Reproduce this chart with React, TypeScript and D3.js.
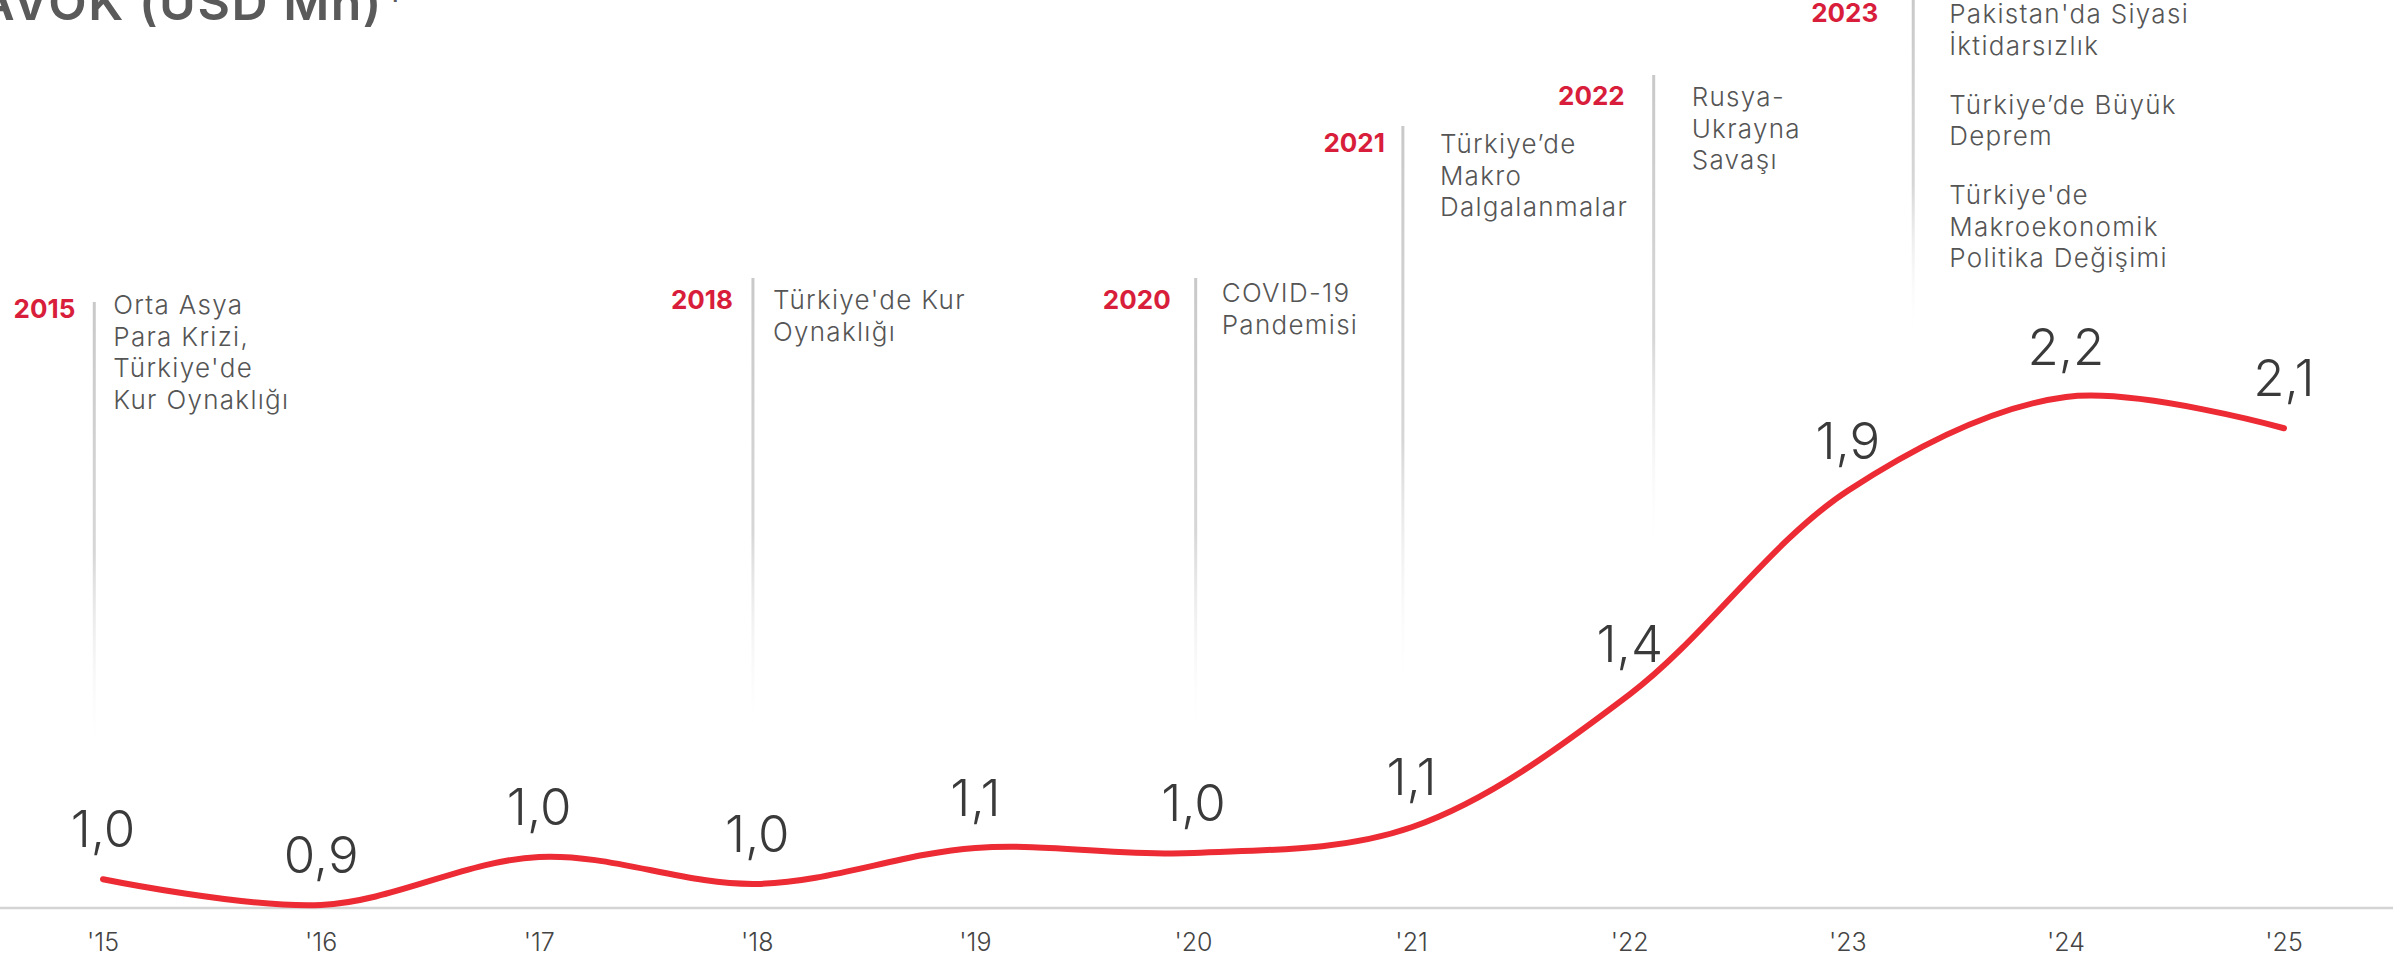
import React from "react";
import * as d3 from "d3";

// data
const years = [2015, 2016, 2017, 2018, 2019, 2020, 2021, 2022, 2023, 2024, 2025];
const tickLabels = ["'15", "'16", "'17", "'18", "'19", "'20", "'21", "'22", "'23", "'24", "'25"];
const ebitda = [0.966, 0.9, 1.023, 0.954, 1.046, 1.033, 1.099, 1.439, 1.96, 2.2, 2.12];
const valueLabels = ["1,0", "0,9", "1,0", "1,0", "1,1", "1,0", "1,1", "1,4", "1,9", "2,2", "2,1"];

const eventYears = ["2015", "2018", "2020", "2021", "2022", "2023"];
const eventTexts = [
  [["Orta Asya", "Para Krizi,", "Türkiye'de", "Kur Oynaklığı"]],
  [["Türkiye'de Kur", "Oynaklığı"]],
  [["COVID-19", "Pandemisi"]],
  [["Türkiye’de", "Makro", "Dalgalanmalar"]],
  [["Rusya-", "Ukrayna", "Savaşı"]],
  [
    ["Pakistan'da Siyasi", "İktidarsızlık"],
    ["Türkiye’de Büyük", "Deprem"],
    ["Türkiye'de", "Makroekonomik", "Politika Değişimi"],
  ],
];

// layout of the event markers (x in year units, y in px)
const eventLayout = [
  { x: 2014.96, top: 302, bottom: 760, yearY: 318, textY: 314, textDx: 19, yearDx: -19 },
  { x: 2017.98, top: 278, bottom: 740, yearY: 309, textY: 309, textDx: 20, yearDx: -20 },
  { x: 2020.01, top: 278, bottom: 740, yearY: 309, textY: 302, textDx: 26, yearDx: -25 },
  { x: 2020.96, top: 126, bottom: 700, yearY: 152, textY: 153, textDx: 37, yearDx: -18 },
  { x: 2022.11, top: 75, bottom: 557, yearY: 105, textY: 106, textDx: 38, yearDx: -29 },
  { x: 2023.3, top: -5, bottom: 340, yearY: 22, textY: 23, textDx: 36, yearDx: -35 },
];

const W = 2405;
const H = 960;
const FONT = "Inter, 'Noto Sans', sans-serif";
const RED = "#ec2b34";
const YEAR_RED = "#d81e3a";

export default function App() {
  const x = d3.scaleLinear().domain([2015, 2025]).range([103, 2284]);
  const y = d3.scaleLinear().domain([0.9, 2.2]).range([905, 397]);

  const line = d3
    .line<number>()
    .x((_, i) => x(years[i]))
    .y((d) => y(d))
    .curve(d3.curveCatmullRom.alpha(0.5));

  const lh = 31.5;
  const paraGap = 27.5;

  return (
    <svg
      width={W}
      height={H}
      style={{ position: "absolute", left: 0, top: 0, display: "block", background: "#fff" }}
      fontFamily={FONT}
    >
      <defs>
        <linearGradient id="fade" x1="0" y1="0" x2="0" y2="1">
          <stop offset="0" stopColor="#c9c9c9" stopOpacity={1} />
          <stop offset="0.55" stopColor="#d2d2d2" stopOpacity={0.9} />
          <stop offset="1" stopColor="#ffffff" stopOpacity={0} />
        </linearGradient>
      </defs>

      {/* title, cut off at the top-left like the reference */}
      <text
        x={383}
        y={20}
        textAnchor="end"
        fontSize={50}
        fontWeight={600}
        letterSpacing={1.5}
        fill="#5a5a5a"
      >
        FAVÖK (USD Mn)
      </text>
      <text x={389} y={2} fontSize={22} fontWeight={600} fill="#5a5a5a">
        1
      </text>

      {/* event markers */}
      {eventYears.map((yr, i) => {
        const L = eventLayout[i];
        const ex = x(L.x);
        let row = 0;
        return (
          <g key={yr}>
            <rect x={ex - 1.5} y={L.top} width={3} height={L.bottom - L.top} fill="url(#fade)" />
            <text
              x={ex + L.yearDx}
              y={L.yearY}
              textAnchor="end"
              fontSize={26}
              fontWeight={700}
              fill={YEAR_RED}
            >
              {yr}
            </text>
            {eventTexts[i].map((para, p) => {
              const out = para.map((t, k) => {
                const ty = L.textY + (row + k) * lh + p * paraGap;
                return (
                  <text
                    key={k}
                    x={ex + L.textDx}
                    y={ty}
                    fontSize={26}
                    fontWeight={300}
                    letterSpacing={1.3}
                    fill="#555"
                  >
                    {t}
                  </text>
                );
              });
              row += para.length;
              return <g key={p}>{out}</g>;
            })}
          </g>
        );
      })}

      {/* baseline */}
      <line x1={0} x2={2393} y1={908} y2={908} stroke="#d4d4d4" strokeWidth={2.5} />

      {/* tick labels */}
      {tickLabels.map((t, i) => (
        <text
          key={t}
          x={x(years[i])}
          y={951}
          textAnchor="middle"
          fontSize={25}
          fontWeight={300}
          fill="#444"
        >
          {t}
        </text>
      ))}

      {/* series */}
      <path d={line(ebitda) || ""} fill="none" stroke={RED} strokeWidth={6} strokeLinecap="round" />

      {/* value labels */}
      {valueLabels.map((v, i) => (
        <text
          key={i}
          x={x(years[i])}
          y={y(ebitda[i]) - 32}
          textAnchor="middle"
          fontSize={51}
          fontWeight={300}
          fill="#3a3a3a"
        >
          {v}
        </text>
      ))}
    </svg>
  );
}
